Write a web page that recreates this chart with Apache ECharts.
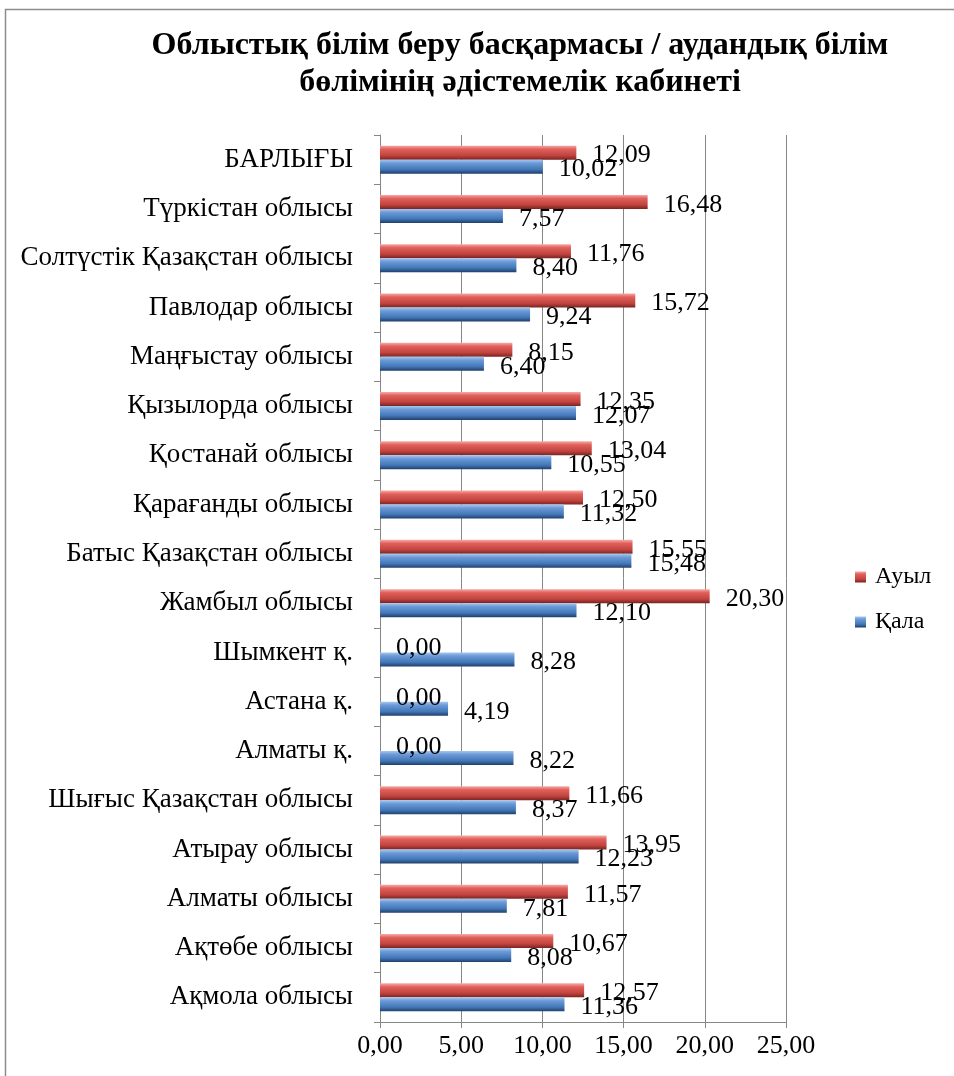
<!DOCTYPE html>
<html><head><meta charset="utf-8">
<script src="https://cdn.jsdelivr.net/npm/echarts@6/dist/echarts.min.js"></script>
<style>html,body{margin:0;padding:0;background:#fff}#c{width:954px;height:1076px}</style>
</head><body><div id="c"></div>
<script>
const categories = ['Ақмола облысы','Ақтөбе облысы','Алматы облысы','Атырау облысы','Шығыс Қазақстан облысы','Алматы қ.','Астана қ.','Шымкент қ.','Жамбыл облысы','Батыс Қазақстан облысы','Қарағанды облысы','Қостанай облысы','Қызылорда облысы','Маңғыстау облысы','Павлодар облысы','Солтүстік Қазақстан облысы','Түркістан облысы','БАРЛЫҒЫ'];
const kala = [11.36,8.08,7.81,12.23,8.37,8.22,4.19,8.28,12.10,15.48,11.32,10.55,12.07,6.40,9.24,8.40,7.57,10.02];
const auyl = [12.57,10.67,11.57,13.95,11.66,0.00,0.00,0.00,20.30,15.55,12.50,13.04,12.35,8.15,15.72,11.76,16.48,12.09];
const seriesNames = ['Қала','Ауыл'];
const titleText = 'Облыстық білім беру басқармасы / аудандық білім\nбөлімінің әдістемелік кабинеті';
const fmt = v => Number(v).toFixed(2).replace('.', ',');
const FONT = '"Liberation Serif","Times New Roman",serif';
const blueGrad = new echarts.graphic.LinearGradient(0,0,0,1,[{offset:0,color:'#a6c8f2'},{offset:0.25,color:'#6b9ad6'},{offset:0.7,color:'#4377b8'},{offset:1,color:'#1f3f6a'}]);
const redGrad = new echarts.graphic.LinearGradient(0,0,0,1,[{offset:0,color:'#f7aaa6'},{offset:0.25,color:'#e0605b'},{offset:0.7,color:'#c2443f'},{offset:1,color:'#7a2320'}]);
const labelCfg = {show:true,position:'right',distance:16,offset:[0,3],formatter:p=>fmt(p.value),fontFamily:FONT,fontSize:26,color:'#000'};
const chart = echarts.init(document.getElementById('c'));
chart.setOption({
  animation:false,
  backgroundColor:'#fff',
  graphic:[{type:'rect',shape:{x:5.5,y:9.5,width:1000,height:1100},style:{fill:'none',stroke:'#8c8c8c',lineWidth:1.5},silent:true}],
  title:{text:titleText,left:515,top:22,textAlign:'center',textStyle:{fontFamily:FONT,fontWeight:'bold',fontSize:32,lineHeight:37,color:'#000'}},
  legend:{orient:'vertical',left:850,top:560,padding:5,itemWidth:11,itemHeight:11,itemGap:21,data:['Ауыл','Қала'],textStyle:{fontFamily:FONT,fontSize:24,color:'#000',padding:[0,0,0,4]},icon:'rect'},
  grid:{left:380,right:168,top:135,bottom:54,containLabel:false},
  xAxis:{type:'value',min:0,max:25,interval:5,
    axisLine:{show:true,lineStyle:{color:'#868686'}},
    axisTick:{show:true,length:6,lineStyle:{color:'#868686'}},
    splitLine:{show:true,lineStyle:{color:'#868686',width:1}},
    axisLabel:{formatter:fmt,fontFamily:FONT,fontSize:26,color:'#000',margin:11}},
  yAxis:{type:'category',data:categories,
    axisLine:{show:true,lineStyle:{color:'#868686'}},
    axisTick:{show:true,length:6,lineStyle:{color:'#868686'}},
    axisLabel:{fontFamily:FONT,fontSize:27,color:'#000',margin:27}},
  series:[
    {name:seriesNames[1],type:'bar',data:auyl,barWidth:14,barGap:'0%',itemStyle:{color:redGrad},label:labelCfg},
    {name:seriesNames[0],type:'bar',data:kala,barWidth:14,barGap:'0%',itemStyle:{color:blueGrad},label:labelCfg}
  ]
});
</script></body></html>
